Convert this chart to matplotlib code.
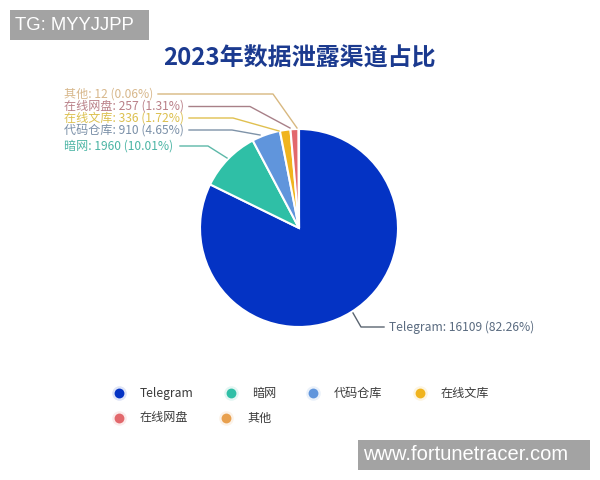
#2023 leak channel share, pie chart
import matplotlib
matplotlib.use('Agg')
import matplotlib.pyplot as plt
from matplotlib.patches import Rectangle

plt.rcParams['font.family']=['Noto Sans CJK SC','DejaVu Sans']

names=['Telegram','暗网','代码仓库','在线文库','在线网盘','其他']
counts=[16109,1960,910,336,257,12]
pcts=['82.26','10.01','4.65','1.72','1.31','0.06']
colors=['#0433c4','#2fbfa6','#6095dc','#f0b41e','#e2686c','#e8a04e']
label_colors=['#5a6b80','#4cb5a5','#7b90a8','#dcc04e','#b98088','#d8b88c']
line_colors=['#5a6470','#5cb8a8','#7f93a8','#e0c050','#a88088','#d8b880']

#pixel positions, y measured from the top of the picture
H=480
cx,cy,rad=299,228,99
label_pos=[(389,327),(64,146),(64,130),(64,118),(64,106.5),(64,94)]
leader_x=[[384,361,353],[180,208,227],[189,232,260],[189,233,279],[189,250,290],[158,273,297]]
leader_y=[[327,327,313],[146,146,158],[130,130,135],[118,118,131],[106.5,106.5,128],[94,94,128]]
legend_x=[119,231,313,420,119,226]
legend_y=[393,393,393,393,418,418]

fig=plt.figure(figsize=(6,4.8),dpi=100)
ax=fig.add_axes([0,0,1,1])

ax.pie(counts,colors=colors,startangle=90,counterclock=False,center=(cx,H-cy),radius=rad,
       frame=True,wedgeprops={'edgecolor':'white','linewidth':1.5})
ax.set_xlim(0,600)
ax.set_ylim(0,H)
ax.set_aspect('equal')
ax.axis('off')

ax.text(300,H-58,'2023年数据泄露渠道占比',fontsize=17.3,fontweight='bold',color='#1b3a8f',ha='center',va='center')

for i in range(len(names)):
    ax.plot(leader_x[i],[H-y for y in leader_y[i]],color=line_colors[i],lw=1)
    ax.text(label_pos[i][0],H-label_pos[i][1],f'{names[i]}: {counts[i]} ({pcts[i]}%)',fontsize=8.7,
            color=label_colors[i],ha='left',va='center')
    #legend dot with pale halo
    ax.scatter(legend_x[i],H-legend_y[i],s=110,color=colors[i],alpha=0.13,linewidths=0)
    ax.scatter(legend_x[i],H-legend_y[i],s=50,color=colors[i],linewidths=0)
    ax.text(legend_x[i]+21,H-legend_y[i],names[i],fontsize=8.7,color='#3a3a3a',ha='left',va='center')

#watermark boxes
ax.add_patch(Rectangle((10,H-40),139,30,color='#a3a3a3',lw=0))
ax.text(15,H-25,'TG: MYYJJPP',fontsize=13.3,color='white',family='Liberation Sans',ha='left',va='center')
ax.add_patch(Rectangle((358,H-470),232,30,color='#a3a3a3',lw=0))
ax.text(363,H-455,'www.fortunetracer.com',fontsize=14.5,color='white',family='Liberation Sans',ha='left',va='center')

plt.savefig('out.png',dpi=100)
